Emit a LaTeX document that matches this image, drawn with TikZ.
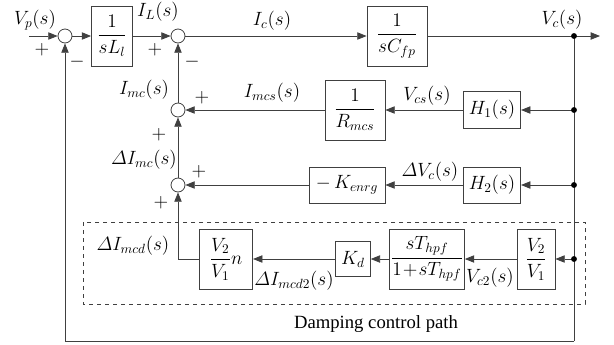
\documentclass[tikz,border=0pt]{standalone}
\usepackage{amsmath}
\usepackage{fontspec}
\setmainfont{Liberation Serif}
\usepackage{tikz}
\usetikzlibrary{arrows.meta, calc}

\begin{document}
\begin{tikzpicture}[
    x=0.75pt, y=-0.75pt,
    font=\fontsize{14pt}{17pt}\selectfont,
    >={Triangle[length=7pt, width=5.5pt]},
    sumnode/.style={circle, draw=black!75, line width=0.6pt, minimum size=10.5pt, inner sep=0pt},
    block/.style={draw=black!75, line width=0.6pt, inner sep=1pt, align=center},
    sig/.style={->, black!75, line width=0.6pt},
    wire/.style={black!75, line width=0.6pt},
    lbl/.style={inner sep=0pt},
    region/.style={draw=black!75, dashed, line width=0.6pt}
]
\useasboundingbox (0,0) rectangle (614,344);

% SUMMING JUNCTIONS
\node[sumnode] (sum1) at (65,36) {};
\node[sumnode] (sum2) at (178,36) {};
\node[sumnode] (sum3) at (178,110) {};
\node[sumnode] (sum4) at (178,185) {};

% FORWARD PATH
\coordinate (vin) at (29,36);
\node[block, minimum width=30.75pt, minimum height=45pt] (blkL) at (112,36) {$\dfrac{1}{sL_l}$};
\node[block, minimum width=45pt, minimum height=45pt] (blkC) at (397,36) {$\dfrac{1}{sC_{fp}}$};
\coordinate (dot1) at (574,36);
\coordinate (vout) at (600,36);

% FEEDBACK BLOCKS
\node[block, minimum width=45pt, minimum height=45pt] (blkR) at (355,110) {$\dfrac{1}{R_{mcs}}$};
\node[block, minimum width=43pt, minimum height=28pt] (blkH1) at (492,110) {$H_1(s)$};
\coordinate (dot2) at (574,110);
\node[block, minimum width=57pt, minimum height=27pt] (blkK) at (347,185) {$-\,K_{enrg}$};
\node[block, minimum width=43pt, minimum height=27pt] (blkH2) at (492,185) {$H_2(s)$};
\coordinate (dot3) at (574,185);

% DAMPING PATH
\node[block, minimum width=28.5pt, minimum height=45pt] (blkV) at (536,259) {$\dfrac{V_2}{V_1}$};
\node[block, minimum width=56pt, minimum height=45pt] (blkHP) at (427,259) {$\dfrac{sT_{hpf}}{1\!+\!sT_{hpf}}$};
\node[block, minimum width=26pt, minimum height=26pt] (blkKd) at (353,259) {$K_d$};
\node[block, minimum width=40pt, minimum height=45pt] (blkN) at (226,259) {$\dfrac{V_2}{V_1}n$};
\coordinate (dot4) at (574,259);
\coordinate (botR) at (574,341);

% ARROWS - FORWARD
\draw[sig] (vin) -- (sum1);
\draw[sig] (sum1) -- (blkL);
\draw[sig] (blkL) -- (sum2);
\draw[sig] (sum2) -- (blkC);
\draw[sig] (blkC) -- (vout);

% ARROWS - FEEDBACK
\draw[wire] (dot1) -- (botR);
\draw[sig] (botR) -| (sum1.south);
\draw[sig] (sum3) -- (sum2);
\draw[sig] (sum4) -- (sum3);
\draw[sig] (dot2) -- (blkH1);
\draw[sig] (blkH1) -- (blkR);
\draw[sig] (blkR) -- (sum3);
\draw[sig] (dot3) -- (blkH2);
\draw[sig] (blkH2) -- (blkK);
\draw[sig] (blkK) -- (sum4);
\draw[sig] (dot4) -- (blkV);
\draw[sig] (blkV) -- (blkHP);
\draw[sig] (blkHP) -- (blkKd);
\draw[sig] (blkKd) -- (blkN);
\draw[sig] (blkN.west) -| (sum4.south);

% DOTS
\foreach \d in {dot1, dot2, dot3, dot4}
    \fill (\d) circle (2.2pt);

% SIGNAL LABELS
\node[lbl] (lVp) at (35,20) {$V_p(s)$};
\node[lbl] (lIL) at (158,12) {$I_L(s)$};
\node[lbl] (lIc) at (272,21) {$I_c(s)$};
\node[lbl] (lVc) at (562,20) {$V_c(s)$};
\node[lbl] (lImc) at (144,90) {$I_{mc}(s)$};
\node[lbl] (lImcs) at (272,93) {$I_{mcs}(s)$};
\node[lbl] (lVcs) at (427,96) {$V_{cs}(s)$};
\node[lbl] (ldImc) at (144,160) {$\varDelta I_{mc}(s)$};
\node[lbl] (ldVc) at (430,172) {$\varDelta V_c(s)$};
\node[lbl] (ldImcd) at (133,246) {$\varDelta I_{mcd}(s)$};
\node[lbl] (ldImcd2) at (294,281) {$\varDelta I_{mcd2}(s)$};
\node[lbl] (lVc2) at (490,278) {$V_{c2}(s)$};

% SIGNS
\node[lbl] (p1) at (42,50) {$+$};
\node[lbl] (m1) at (77,62) {$-$};
\node[lbl] (p2) at (155,50) {$+$};
\node[lbl] (m2) at (192,62) {$-$};
\node[lbl] (p3) at (202,98) {$+$};
\node[lbl] (p4) at (159,135) {$+$};
\node[lbl] (p5) at (199,172) {$+$};
\node[lbl] (p6) at (161,203) {$+$};

% REGION
\draw[region] (83,222) rectangle (585,304);
\node[lbl] (damp) at (376,324) {Damping control path};

\end{tikzpicture}
\end{document}
